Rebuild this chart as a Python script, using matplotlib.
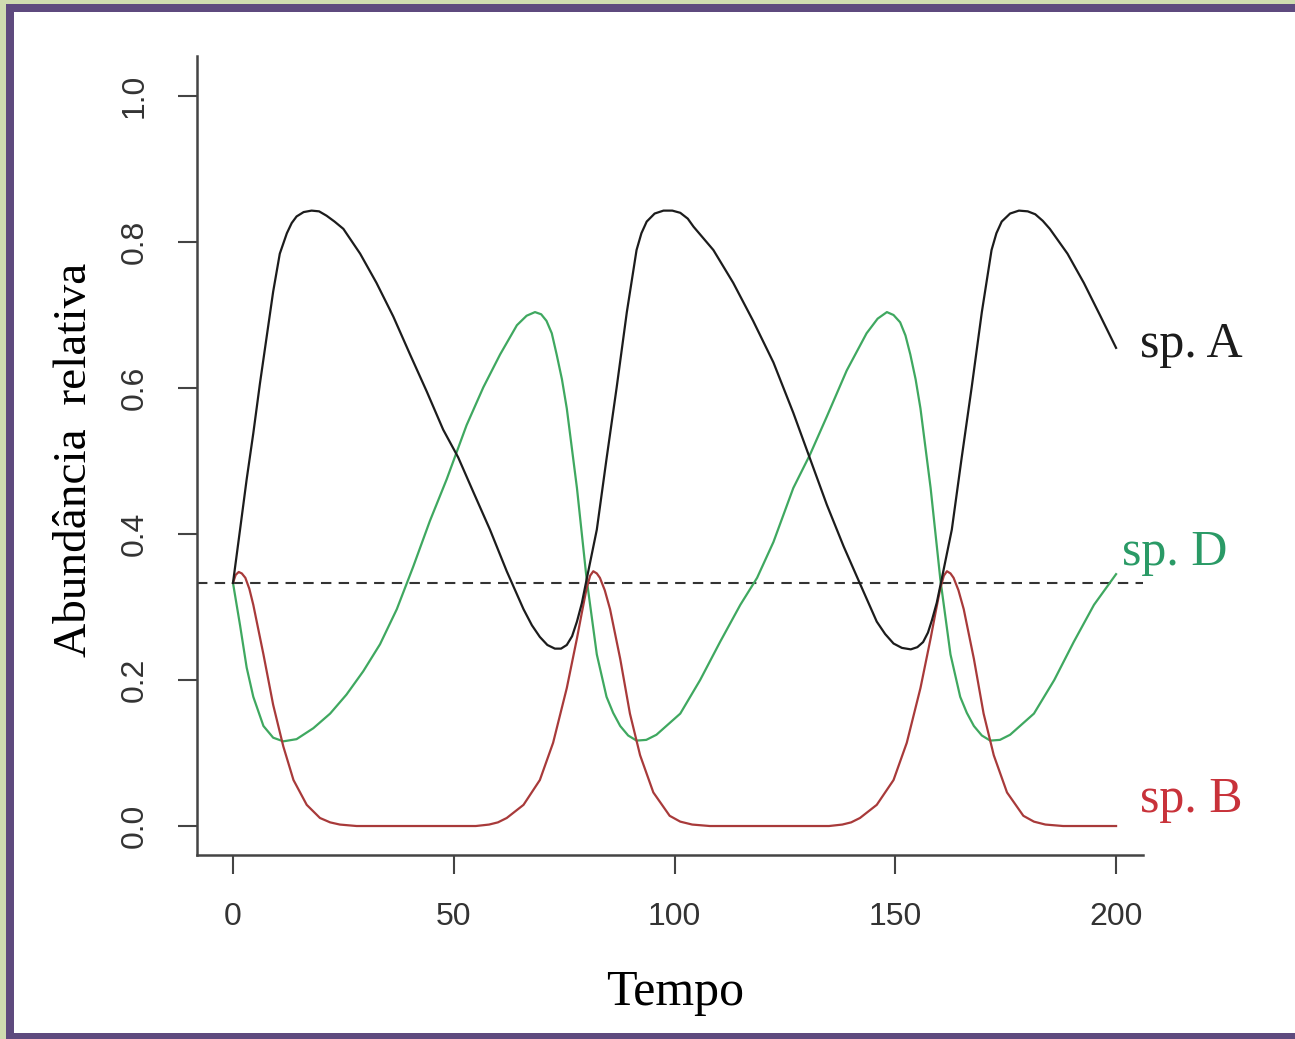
import matplotlib
matplotlib.use("Agg")
import matplotlib.pyplot as plt
from matplotlib.patches import Rectangle

plt.rcParams["font.family"] = ["Liberation Sans", "DejaVu Sans"]

# ---- data ---------------------------------------------------------------------
# sp. A (black)
t_a = [0, 1.6, 3.1, 4.6, 6.1, 7.6, 9.1, 10.6, 12.2, 13.3, 14.4, 16, 17.8, 19.5,
       21.2, 23, 25, 28.8, 32.5, 36.3, 40.1, 43.9, 47.6, 51, 54.4, 58.2, 62, 65.8,
       67.7, 69.5, 71.2, 72.9, 74.3, 75.6, 76.8, 77.9, 79, 80.1, 82.4, 84.6, 86.9,
       89.2, 91.4, 92.5, 93.7, 95.5, 97.5, 99.5, 101.3, 103, 104.3, 108.8, 113.3,
       117.8, 122.4, 126.9, 130.7, 134.5, 138.3, 142, 145.8, 147.7, 149.6, 151.5,
       153.5, 155, 156.3, 157.4, 158.3, 159.4, 160.5, 162.8, 165, 167.3, 169.6,
       171.8, 172.9, 174.1, 176, 178, 180, 181.7, 183.4, 185, 189, 192.7, 196.5,
       200]
sp_a = [0.333, 0.406, 0.475, 0.538, 0.606, 0.669, 0.732, 0.784, 0.812, 0.826,
        0.835, 0.841, 0.843, 0.842, 0.836, 0.828, 0.818, 0.784, 0.744, 0.698,
        0.646, 0.595, 0.543, 0.505, 0.458, 0.406, 0.349, 0.297, 0.275, 0.259,
        0.248, 0.243, 0.243, 0.248, 0.260, 0.280, 0.305, 0.338, 0.406, 0.503,
        0.601, 0.704, 0.789, 0.812, 0.828, 0.839, 0.843, 0.843, 0.840, 0.832,
        0.821, 0.789, 0.744, 0.692, 0.635, 0.566, 0.503, 0.440, 0.383, 0.332,
        0.280, 0.263, 0.250, 0.244, 0.242, 0.245, 0.252, 0.265, 0.282, 0.306,
        0.338, 0.406, 0.503, 0.601, 0.704, 0.789, 0.812, 0.828, 0.839, 0.843,
        0.842, 0.838, 0.829, 0.818, 0.784, 0.744, 0.698, 0.655]

# sp. D (green)
t_d = [0, 1.6, 3.1, 4.6, 6.9, 9.1, 11.4, 14.4, 18.2, 22, 25.7, 29.5, 33.3, 37.1,
       40.8, 44.6, 48.4, 52.9, 56.7, 60.5, 64.3, 66.5, 68.4, 69.8, 71, 72.2, 73.3,
       74.5, 75.6, 77.9, 80.1, 82.4, 84.6, 86.1, 87.7, 89.5, 91.4, 93.6, 95.9,
       101.3, 105.8, 110.3, 114.9, 118.7, 122.4, 126.9, 130.7, 134.5, 139, 143.5,
       146, 148.1, 149.6, 151.1, 152.3, 153.4, 154.6, 155.7, 158, 160.2, 162.5,
       164.7, 166.2, 167.8, 169.6, 171.5, 173.7, 176, 181.4, 186, 190.4, 195, 200]
sp_d = [0.333, 0.275, 0.217, 0.177, 0.137, 0.121, 0.116, 0.119, 0.134, 0.154,
        0.180, 0.212, 0.249, 0.297, 0.355, 0.418, 0.475, 0.549, 0.601, 0.646,
        0.686, 0.699, 0.704, 0.701, 0.692, 0.675, 0.646, 0.612, 0.572, 0.463,
        0.338, 0.235, 0.177, 0.155, 0.137, 0.124, 0.117, 0.118, 0.125, 0.154,
        0.200, 0.252, 0.303, 0.340, 0.389, 0.463, 0.509, 0.561, 0.624, 0.675,
        0.695, 0.704, 0.700, 0.690, 0.672, 0.646, 0.612, 0.572, 0.463, 0.338,
        0.235, 0.177, 0.155, 0.137, 0.124, 0.117, 0.118, 0.125, 0.154, 0.200,
        0.252, 0.303, 0.345]

# sp. B (red)
t_b = [0, 0.6, 1.3, 2, 2.8, 3.7, 4.6, 6.9, 9.1, 11.4, 13.7, 16.7, 19.7, 22, 24.2,
       28, 55, 58, 60, 62, 65.8, 69.5, 72.5, 75.6, 77.9, 79, 80.1, 80.9, 81.6, 82.4,
       83.1, 84.2, 85.4, 87.7, 89.9, 92.2, 95.2, 98.9, 101.3, 104, 108, 135, 138,
       140, 142, 145.8, 149.6, 152.6, 155.7, 158, 159.1, 160.2, 161, 161.7, 162.5,
       163.2, 164.3, 165.5, 167.8, 170, 172.3, 175.3, 179, 181.4, 184, 188, 200]
sp_b = [0.333, 0.344, 0.348, 0.346, 0.340, 0.325, 0.303, 0.235, 0.166, 0.109,
        0.063, 0.029, 0.011, 0.005, 0.002, 0.0, 0.0, 0.002, 0.005, 0.011, 0.029,
        0.063, 0.114, 0.189, 0.257, 0.292, 0.326, 0.343, 0.349, 0.346, 0.340,
        0.323, 0.297, 0.229, 0.154, 0.097, 0.046, 0.014, 0.006, 0.002, 0.0, 0.0,
        0.002, 0.005, 0.011, 0.029, 0.063, 0.114, 0.189, 0.257, 0.292, 0.326,
        0.343, 0.349, 0.346, 0.340, 0.323, 0.297, 0.229, 0.154, 0.097, 0.046,
        0.014, 0.006, 0.002, 0.0, 0.0]

equilibrium = 1 / 3
x_ticks = [0, 50, 100, 150, 200]
y_ticks = [0.0, 0.2, 0.4, 0.6, 0.8, 1.0]
y_ticklabels = ["0.0", "0.2", "0.4", "0.6", "0.8", "1.0"]

# ---- styles --------------------------------------------------------------------
C_A, C_D, C_B = "#1c1c1c", "#3fa860", "#a83a3a"
C_DTXT, C_BTXT = "#2a9a66", "#c8323a"
C_AXIS = "#444444"
C_PURPLE, C_GREENEDGE = "#5e4a7e", "#cfdcb0"
SERIF = ["Liberation Serif", "DejaVu Serif"]

W, H = 1295, 1039
fig = plt.figure(figsize=(W / 100, H / 100), dpi=100)
fig.patch.set_facecolor("white")

# picture frame (left, top, bottom only)
frame = [
    (0, 0, 6, H, C_GREENEDGE), (0, H - 4, W, 4, C_GREENEDGE),
    (6, 0, 8, H - 4, C_PURPLE), (6, H - 12, W - 6, 8, C_PURPLE),
    (6, 0, W - 6, 6, C_PURPLE),
]
for x0, y0, w, h, c in frame:
    fig.patches.append(Rectangle((x0 / W, y0 / H), w / W, h / H,
                                 transform=fig.transFigure, color=c, lw=0,
                                 zorder=0))

ax = fig.add_axes([197 / W, 1 - 855 / H, (1143 - 197) / W, (855 - 56) / H])
ax.set_facecolor("none")
ax.set_xlim(-8.15, 206.1)
ax.set_ylim(-0.0397, 1.0548)

ax.plot(t_a, sp_a, color=C_A, lw=1.6, zorder=4, solid_joinstyle="round")
ax.plot(t_d, sp_d, color=C_D, lw=1.6, zorder=3, solid_joinstyle="round")
ax.plot(t_b, sp_b, color=C_B, lw=1.6, zorder=3, solid_joinstyle="round")
ax.axhline(equilibrium, color="#333333", lw=1.5, ls=(0, (5, 3.5)), zorder=2)

for s in ("top", "right"):
    ax.spines[s].set_visible(False)
for s in ("left", "bottom"):
    ax.spines[s].set_color(C_AXIS)
    ax.spines[s].set_linewidth(1.8)

ax.set_xticks(x_ticks)
ax.set_yticks(y_ticks)
ax.set_yticklabels(y_ticklabels, rotation=90, va="center")
ax.tick_params(length=14, width=1.5, color=C_AXIS, pad=20, labelsize=23,
               labelcolor="#333333")

# series labels
ax.text(205.4, 0.659, "sp. A", color=C_A, fontsize=36, family=SERIF,
        ha="left", va="center", clip_on=False)
ax.text(201.4, 0.374, "sp. D", color=C_DTXT, fontsize=36, family=SERIF,
        ha="left", va="center", clip_on=False)
ax.text(205.4, 0.036, "sp. B", color=C_BTXT, fontsize=36, family=SERIF,
        ha="left", va="center", clip_on=False)

fig.text(75 / W, 1 - 460 / H, "Abundância  relativa", rotation=90, fontsize=34,
         family=SERIF, ha="center", va="center")
fig.text(675 / W, 1 - 993 / H, "Tempo", fontsize=36, family=SERIF,
         ha="center", va="center")

fig.savefig("out.png", dpi=100)
